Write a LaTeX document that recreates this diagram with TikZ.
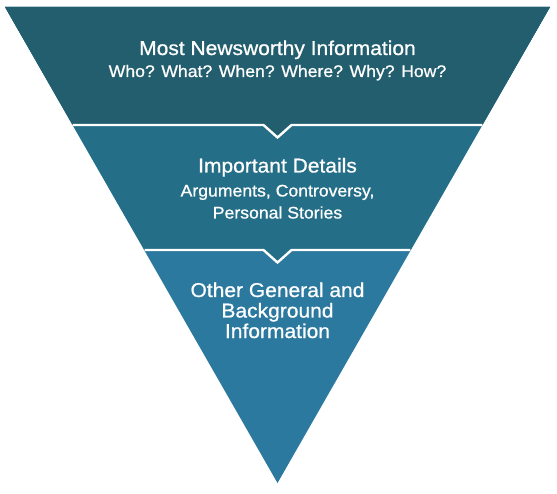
\documentclass[tikz,border=0pt]{standalone}
\usepackage{fontspec}
\setmainfont{Liberation Sans}[FakeStretch=1.05,FakeBold=0.8]
\definecolor{bandA}{RGB}{34,94,110}
\definecolor{bandB}{RGB}{37,110,135}
\definecolor{bandC}{RGB}{43,121,158}
\tikzset{
  titletext/.style={text=white, inner sep=0pt, anchor=base, font=\fontsize{20}{24}\selectfont},
  subtext/.style={text=white, inner sep=0pt, anchor=base, font=\fontsize{16.8}{20}\selectfont},
  sepline/.style={draw=white, line width=2.4pt, line join=miter}
}
\begin{document}
\begin{tikzpicture}[x=1pt,y=-1pt]
\useasboundingbox (0,0) rectangle (557,494);
% geometry
\coordinate (tl) at (5,7);
\coordinate (tr) at (550,7);
\coordinate (apex) at (277.5,483);
\coordinate (l1) at (72.6,125);
\coordinate (r1) at (482.4,125);
\coordinate (c1a) at (263.5,125);
\coordinate (c1b) at (277.5,137.5);
\coordinate (c1c) at (291.5,125);
\coordinate (l2) at (144.6,250);
\coordinate (r2) at (410.4,250);
\coordinate (c2a) at (263.5,250);
\coordinate (c2b) at (277.5,262.5);
\coordinate (c2c) at (291.5,250);
% bands
\fill[bandC] (tl) -- (tr) -- (apex) -- cycle;
\fill[bandB] (tl) -- (tr) -- (r2) -- (c2c) -- (c2b) -- (c2a) -- (l2) -- cycle;
\fill[bandA] (tl) -- (tr) -- (r1) -- (c1c) -- (c1b) -- (c1a) -- (l1) -- cycle;
% separators
\draw[sepline] (l1) -- (c1a) -- (c1b) -- (c1c) -- (r1);
\draw[sepline] (l2) -- (c2a) -- (c2b) -- (c2c) -- (r2);
% texts
\node[titletext] (t1) at (277.5,55) {Most Newsworthy Information};
\node[subtext] (s1) at (277.5,77) {Who? What? When? Where? Why? How?};
\node[titletext] (t2) at (277.5,172.5) {Important Details};
\node[subtext] (s2a) at (277.5,196.5) {Arguments, Controversy,};
\node[subtext] (s2b) at (277.5,218.5) {Personal Stories};
\node[titletext] (t3a) at (277.5,297) {Other General and};
\node[titletext] (t3b) at (277.5,317.5) {Background};
\node[titletext] (t3c) at (277.5,338) {Information};
\end{tikzpicture}
\end{document}
